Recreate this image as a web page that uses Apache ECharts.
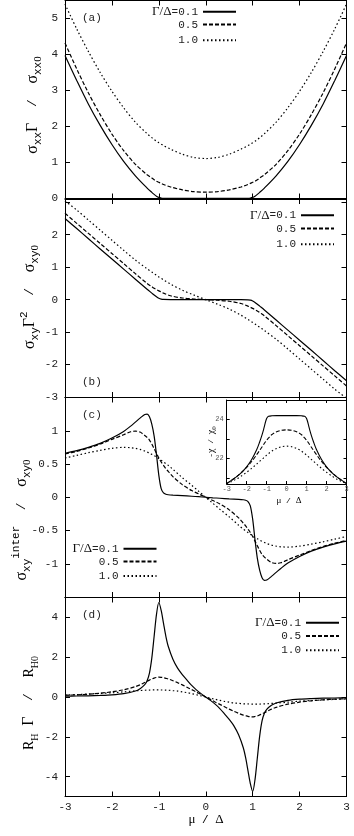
<!DOCTYPE html>
<html><head><meta charset="utf-8">
<script src="https://cdn.jsdelivr.net/npm/echarts@6/dist/echarts.min.js"></script>
<style>html,body{margin:0;padding:0;background:#fff}#c{width:354px;height:836px}</style>
</head><body><div id="c"></div>
<script>
// ---------- data ----------
const seriesNames = ['Γ/Δ=0.1', '0.5', '1.0'];
const xTicks = [-3, -2, -1, 0, 1, 2, 3];

// panel (a) and (b): mu grid
const muA = [-3,-2.75,-2.5,-2.25,-2,-1.75,-1.5,-1.25,-1.15,-1.1,-1.05,-1,-0.95,-0.9,-0.75,-0.5,-0.25,0,0.25,0.5,0.75,0.9,0.95,1,1.05,1.1,1.15,1.25,1.5,1.75,2,2.25,2.5,2.75,3];
const sxxG01 = [3.97,3.28,2.62,2.03,1.5,1.03,0.63,0.29,0.17,0.115,0.065,0.03,0.012,0.006,0.003,0.002,0.001,0.001,0.001,0.002,0.003,0.006,0.012,0.03,0.065,0.115,0.17,0.29,0.63,1.03,1.5,2.03,2.62,3.28,3.97];
const sxxG05 = [4.32,3.6,2.93,2.33,1.79,1.33,0.95,0.66,0.57,0.52,0.48,0.45,0.42,0.39,0.32,0.24,0.19,0.176,0.19,0.24,0.32,0.39,0.42,0.45,0.48,0.52,0.57,0.66,0.95,1.33,1.79,2.33,2.93,3.6,4.32];
const sxxG10 = [5.4,4.71,4.08,3.5,2.98,2.52,2.12,1.8,1.69,1.64,1.59,1.55,1.51,1.47,1.37,1.23,1.14,1.11,1.14,1.23,1.37,1.47,1.51,1.55,1.59,1.64,1.69,1.8,2.12,2.52,2.98,3.5,4.08,4.71,5.4];
const sxyG01 = [2.5,2.19,1.875,1.56,1.25,0.94,0.63,0.32,0.2,0.14,0.085,0.04,0.015,0.007,0.003,0.002,0.001,0,-0.001,-0.002,-0.003,-0.007,-0.015,-0.04,-0.085,-0.14,-0.2,-0.32,-0.63,-0.94,-1.25,-1.56,-1.875,-2.19,-2.5];
const sxyG05 = [2.66,2.35,2.04,1.73,1.42,1.11,0.8,0.5,0.4,0.35,0.31,0.27,0.235,0.2,0.12,0.05,0.02,0,-0.02,-0.05,-0.12,-0.2,-0.235,-0.27,-0.31,-0.35,-0.4,-0.5,-0.8,-1.11,-1.42,-1.73,-2.04,-2.35,-2.66];
const sxyG10 = [3.04,2.76,2.45,2.14,1.83,1.52,1.22,0.95,0.85,0.8,0.75,0.7,0.655,0.61,0.48,0.29,0.14,0,-0.14,-0.29,-0.48,-0.61,-0.655,-0.7,-0.75,-0.8,-0.85,-0.95,-1.22,-1.52,-1.83,-2.14,-2.45,-2.76,-3.04];

// panel (c)
const muC = [-3,-2.75,-2.5,-2.25,-2,-1.75,-1.6,-1.5,-1.4,-1.3,-1.25,-1.2,-1.15,-1.1,-1.05,-1,-0.95,-0.9,-0.85,-0.8,-0.7,-0.5,-0.3,-0.15,0,0.15,0.3,0.5,0.7,0.8,0.85,0.9,0.95,1,1.05,1.1,1.15,1.2,1.25,1.3,1.4,1.5,1.6,1.75,2,2.25,2.5,2.75,3];
const interG01 = [0.66,0.70,0.75,0.81,0.89,0.99,1.07,1.13,1.19,1.245,1.25,1.21,1.1,0.92,0.64,0.33,0.13,0.065,0.045,0.038,0.032,0.024,0.015,0.008,0,-0.008,-0.015,-0.024,-0.032,-0.038,-0.045,-0.065,-0.13,-0.33,-0.64,-0.92,-1.1,-1.21,-1.25,-1.245,-1.19,-1.13,-1.07,-0.99,-0.89,-0.81,-0.75,-0.70,-0.66];
const interG05 = [0.65,0.69,0.74,0.80,0.87,0.94,0.985,0.995,0.98,0.93,0.9,0.86,0.8,0.73,0.66,0.59,0.53,0.48,0.43,0.39,0.31,0.19,0.1,0.05,0,-0.05,-0.1,-0.19,-0.31,-0.39,-0.43,-0.48,-0.53,-0.59,-0.66,-0.73,-0.8,-0.86,-0.9,-0.93,-0.98,-0.995,-0.985,-0.94,-0.87,-0.80,-0.74,-0.69,-0.65];
const interG10 = [0.59,0.63,0.67,0.705,0.735,0.75,0.745,0.735,0.72,0.695,0.68,0.665,0.645,0.625,0.605,0.58,0.555,0.53,0.505,0.48,0.42,0.295,0.18,0.09,0,-0.09,-0.18,-0.295,-0.42,-0.48,-0.505,-0.53,-0.555,-0.58,-0.605,-0.625,-0.645,-0.665,-0.68,-0.695,-0.72,-0.735,-0.745,-0.75,-0.735,-0.705,-0.67,-0.63,-0.59];

// inset of (c)
const muI = [-3,-2.75,-2.5,-2.25,-2,-1.75,-1.5,-1.35,-1.25,-1.15,-1.1,-1.05,-1,-0.95,-0.9,-0.75,-0.5,-0.25,0,0.25,0.5,0.75,0.9,0.95,1,1.05,1.1,1.15,1.25,1.35,1.5,1.75,2,2.25,2.5,2.75,3];
const chiG01 = [20.72,20.9,21.08,21.3,21.58,21.95,22.45,22.85,23.15,23.5,23.7,23.9,24.05,24.13,24.17,24.19,24.2,24.2,24.2,24.2,24.2,24.19,24.17,24.13,24.05,23.9,23.7,23.5,23.15,22.85,22.45,21.95,21.58,21.3,21.08,20.9,20.72];
const chiG05 = [20.72,20.89,21.08,21.3,21.55,21.85,22.2,22.42,22.57,22.72,22.8,22.87,22.94,23.0,23.06,23.22,23.38,23.45,23.47,23.45,23.38,23.22,23.06,23.0,22.94,22.87,22.8,22.72,22.57,22.42,22.2,21.85,21.55,21.3,21.08,20.89,20.72];
const chiG10 = [20.72,20.83,20.96,21.12,21.3,21.5,21.72,21.86,21.95,22.04,22.09,22.13,22.18,22.22,22.26,22.38,22.52,22.61,22.64,22.61,22.52,22.38,22.26,22.22,22.18,22.13,22.09,22.04,21.95,21.86,21.72,21.5,21.3,21.12,20.96,20.83,20.72];

// panel (d)
const muD = [-3,-2.75,-2.5,-2.25,-2,-1.75,-1.5,-1.4,-1.3,-1.25,-1.2,-1.15,-1.1,-1.05,-1,-0.95,-0.9,-0.85,-0.8,-0.7,-0.6,-0.5,-0.4,-0.3,-0.2,-0.1,0,0.1,0.2,0.3,0.4,0.5,0.6,0.7,0.8,0.85,0.9,0.95,1,1.05,1.1,1.15,1.2,1.25,1.3,1.4,1.5,1.75,2,2.25,2.5,2.75,3];
const rhG01 = [0.04,0.05,0.06,0.08,0.11,0.17,0.3,0.42,0.62,0.82,1.2,1.95,3.05,4.15,4.75,4.35,3.7,3.05,2.55,1.9,1.45,1.13,0.85,0.58,0.36,0.17,0,-0.17,-0.36,-0.58,-0.85,-1.13,-1.45,-1.9,-2.55,-3.05,-3.7,-4.35,-4.75,-4.15,-3.05,-1.95,-1.2,-0.82,-0.62,-0.42,-0.3,-0.17,-0.11,-0.08,-0.06,-0.05,-0.04];
const rhG05 = [0.09,0.11,0.14,0.19,0.26,0.36,0.52,0.61,0.73,0.79,0.85,0.9,0.95,0.98,1.0,0.99,0.97,0.94,0.91,0.82,0.72,0.61,0.49,0.37,0.25,0.12,0,-0.12,-0.25,-0.37,-0.49,-0.61,-0.72,-0.82,-0.91,-0.94,-0.97,-0.99,-1.0,-0.98,-0.95,-0.9,-0.85,-0.79,-0.73,-0.61,-0.52,-0.36,-0.26,-0.19,-0.14,-0.11,-0.09];
const rhG10 = [0.1,0.12,0.15,0.18,0.21,0.26,0.31,0.325,0.34,0.345,0.35,0.355,0.36,0.36,0.36,0.355,0.35,0.345,0.34,0.32,0.3,0.26,0.22,0.17,0.115,0.06,0,-0.06,-0.115,-0.17,-0.22,-0.26,-0.3,-0.32,-0.34,-0.345,-0.35,-0.355,-0.36,-0.36,-0.36,-0.355,-0.35,-0.345,-0.34,-0.325,-0.31,-0.26,-0.21,-0.18,-0.15,-0.12,-0.1];

// y tick values / labels
const yTicksA = [0,1,2,3,4,5], yLabA = [0,1,2,3,4,5];
const yTicksB = [-3,-2,-1,0,1,2,3], yLabB = [-3,-2,-1,0,1,2];
const yTicksC = [-1.5,-1,-0.5,0,0.5,1,1.5], yLabC = [-1,-0.5,0,0.5,1];
const yTicksD = [-4,-2,0,2,4], yLabD = [-4,-2,0,2,4];
const yTicksI = [21,22,23,24], yLabI = [22,24];

// ---------- chart ----------
const MONO = 'Liberation Mono', SERIF = 'Liberation Serif';
const dashes = ['solid', [4, 2], [1.5, 2.5]];
const grids = [
  {left: 65, top: 0.5, width: 281.5, height: 198},
  {left: 65, top: 199, width: 281.5, height: 198},
  {left: 65, top: 397.5, width: 281.5, height: 199.5},
  {left: 65, top: 597.5, width: 281.5, height: 199},
  {left: 226.7, top: 400, width: 119.8, height: 84, show: true, backgroundColor: '#fff', borderWidth: 0, z: 5}
];
const xAxes = [], yAxes = [];
function addAxes(gi, ymin, ymax, yticks, ylabs, showX, small) {
  const tl = small ? 3 : 5;
  const fs = small ? 7 : 11;
  const lc = '#000';
  [ 'bottom', 'top' ].forEach((pos, k) => {
    xAxes.push({gridIndex: gi, type: 'value', min: -3, max: 3, interval: 1, position: pos,
      axisLine: {show: true, onZero: false, lineStyle: {color: lc, width: 1}},
      axisTick: {show: true, inside: true, length: tl, customValues: xTicks, lineStyle: {color: lc, width: 1}},
      axisLabel: {show: k === 0 && showX, customValues: xTicks, margin: small ? 2 : 5, fontFamily: MONO, fontSize: fs, color: small ? '#555' : '#222'},
      splitLine: {show: false}, z: small ? 6 : 2});
  });
  [ 'left', 'right' ].forEach((pos, k) => {
    yAxes.push({gridIndex: gi, type: 'value', min: ymin, max: ymax, position: pos,
      axisLine: {show: true, onZero: false, lineStyle: {color: lc, width: 1}},
      axisTick: {show: true, inside: true, length: tl, customValues: yticks, lineStyle: {color: lc, width: 1}},
      axisLabel: {show: k === 0, customValues: ylabs, margin: small ? 3 : 7, fontFamily: MONO, fontSize: fs, color: small ? '#555' : '#222'},
      splitLine: {show: false}, z: small ? 6 : 2});
  });
}
addAxes(0, 0, 5.5, yTicksA, yLabA, false, false);
addAxes(1, -3, 3.1, yTicksB, yLabB, false, false);
addAxes(2, -1.5, 1.5, yTicksC, yLabC, false, false);
addAxes(3, -5, 5, yTicksD, yLabD, true, false);
addAxes(4, 20.7, 25, yTicksI, yLabI, true, true);

const series = [];
function addSeries(gi, xs, ys, k) {
  series.push({type: 'line', name: seriesNames[k], xAxisIndex: gi * 2, yAxisIndex: gi * 2,
    data: xs.map((x, i) => [x, ys[i]]), symbol: 'none', smooth: 0.3, silent: true,
    lineStyle: {color: '#000', width: gi === 4 ? 1.1 : 1.2, type: dashes[k]}, itemStyle: {color: '#000'},
    z: gi === 4 ? 7 : 3});
}
[sxxG01, sxxG05, sxxG10].forEach((d, k) => addSeries(0, muA, d, k));
[sxyG01, sxyG05, sxyG10].forEach((d, k) => addSeries(1, muA, d, k));
[interG01, interG05, interG10].forEach((d, k) => addSeries(2, muC, d, k));
[rhG01, rhG05, rhG10].forEach((d, k) => addSeries(3, muD, d, k));
[chiG01, chiG05, chiG10].forEach((d, k) => addSeries(4, muI, d, k));

// legends (gnuplot style: text then sample)
const legendRows = [
  {right: 117, tops: [12.3, 26, 41.7]},
  {right: 19, tops: [215.7, 230, 245.7]},
  {right: 196.5, tops: [549.3, 563, 577.3]},
  {right: 14, tops: [623.3, 637.3, 651.7]}
];
const legends = [];
legendRows.forEach(p => {
  p.tops.forEach((t, k) => {
    legends.push({data: [seriesNames[k]], selectedMode: false, orient: 'horizontal', align: 'right',
      right: p.right, top: t - 7, padding: 0, itemWidth: 33, itemHeight: 14, itemGap: 0,
      itemStyle: {opacity: 0, borderWidth: 0},
      formatter: n => n === 'Γ/Δ=0.1' ? '{g|Γ/Δ}{m|=0.1}' : '{m|' + n + '}',
      textStyle: {fontFamily: MONO, fontSize: 11, color: '#222',
        rich: {g: {fontFamily: SERIF, fontSize: 13, color: '#111'}, m: {fontFamily: MONO, fontSize: 11, color: '#222'}}}});
  });
});

const titleRich = {
  g: {fontFamily: SERIF, fontSize: 16, color: '#111', lineHeight: 22, verticalAlign: 'middle'},
  m: {fontFamily: MONO, fontSize: 13, color: '#222', lineHeight: 22, verticalAlign: 'middle'},
  s: {fontFamily: MONO, fontSize: 11, color: '#222', lineHeight: 11, verticalAlign: 'bottom'},
  z: {fontFamily: SERIF, fontSize: 11, color: '#222', lineHeight: 11, verticalAlign: 'bottom'},
  p: {fontFamily: MONO, fontSize: 11, color: '#222', lineHeight: 11, verticalAlign: 'top'},
  rs: {fontFamily: SERIF, fontSize: 10, color: '#222', lineHeight: 10, verticalAlign: 'bottom'},
  r: {fontFamily: SERIF, fontSize: 14, color: '#222', lineHeight: 22, verticalAlign: 'middle'}
};
function vtext(x, y, text) {
  return {type: 'text', x: x, y: y, rotation: Math.PI / 2, z: 10,
    style: {text: text, rich: titleRich, align: 'center', verticalAlign: 'middle'}};
}
function htext(x, y, text, font, size, align) {
  return {type: 'text', x: x, y: y, z: 10,
    style: {text: text, font: size + 'px "' + font + '"', fill: '#222', align: align || 'left', verticalAlign: 'middle'}};
}
const graphics = [
  vtext(33, 105, '{g|σ}{s|xx}{g|Γ}{m|  /  }{g|σ}{s|xx}{z|0}'),
  vtext(30, 297, '{g|σ}{s|xy}{g|Γ}{p|2}{m|  /  }{g|σ}{s|xy}{z|0}'),
  vtext(22, 520, '{g|σ}{s|xy}{p|inter}{m|  /  }{g|σ}{s|xy}{z|0}'),
  vtext(29, 703, '{r|R}{rs|H}{m| }{g|Γ}{m|  /  }{r|R}{rs|H0}'),
  htext(82, 18, '(a)', MONO, 11),
  htext(82, 382, '(b)', MONO, 11),
  htext(82, 415, '(c)', MONO, 11),
  htext(82, 615, '(d)', MONO, 11),
  {type: 'text', x: 206, y: 820, z: 10, style: {text: '{g|μ}{m| / }{g|Δ}', align: 'center', verticalAlign: 'middle',
    rich: {g: {fontFamily: SERIF, fontSize: 13, color: '#111'}, m: {fontFamily: MONO, fontSize: 11, color: '#222'}}}},
  {type: 'text', x: 289, y: 501, z: 10, style: {text: '{g|μ}{m| / }{g|Δ}', align: 'center', verticalAlign: 'middle',
    rich: {g: {fontFamily: SERIF, fontSize: 9, color: '#333'}, m: {fontFamily: MONO, fontSize: 8, color: '#333'}}}},
  {type: 'text', x: 211, y: 442, rotation: Math.PI / 2, z: 10, style: {text: '{m|-}{g|χ}{m| / }{g|χ}{s|0}', align: 'center', verticalAlign: 'middle',
    rich: {g: {fontFamily: SERIF, fontSize: 10, color: '#333', lineHeight: 14, verticalAlign: 'middle'},
           m: {fontFamily: MONO, fontSize: 8, color: '#333', lineHeight: 14, verticalAlign: 'middle'},
           s: {fontFamily: SERIF, fontSize: 7, color: '#333', lineHeight: 7, verticalAlign: 'bottom'}}}}
];

const chart = echarts.init(document.getElementById('c'), null, {renderer: 'canvas'});
chart.setOption({
  animation: false,
  backgroundColor: '#fff',
  grid: grids,
  xAxis: xAxes,
  yAxis: yAxes,
  legend: legends,
  series: series,
  graphic: graphics
});
</script></body></html>
